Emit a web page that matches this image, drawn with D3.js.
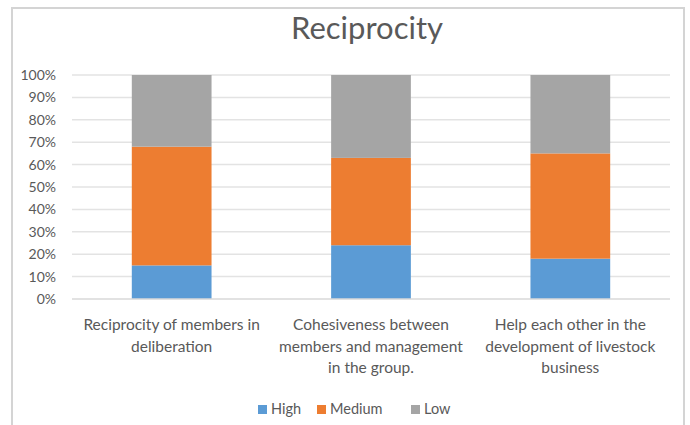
<!DOCTYPE html>
<html>
<head>
<meta charset="utf-8">
<script src="https://cdn.jsdelivr.net/npm/d3@7/dist/d3.min.js"></script>
<style>
  html, body { margin: 0; padding: 0; background: #fff; }
  svg { display: block; }
  text { font-family: Lato, "Open Sans", sans-serif; }
</style>
</head>
<body>
<svg id="chart" width="690" height="425"></svg>
<script>
// Survey responses on reciprocity, percent of respondents per level
const categories = [
  ["Reciprocity of members in", "deliberation"],
  ["Cohesiveness between", "members and management", "in the group."],
  ["Help each other in the", "development of livestock", "business"]
];
const seriesNames = ["High", "Medium", "Low"];
const high   = [15, 24, 18];
const medium = [53, 39, 47];
const low    = [32, 37, 35];
const tickValues = [0, 10, 20, 30, 40, 50, 60, 70, 80, 90, 100];
const colors = ["#5b9bd5", "#ed7d31", "#a5a5a5"];

const svg = d3.select("#chart");

// outer frame (open at the bottom)
svg.append("path")
  .attr("d", "M12,425 V8 H684 V425")
  .attr("fill", "none")
  .attr("stroke", "#d4d4d4")
  .attr("stroke-width", 2);

const margin = { left: 72 };
const plotRight = 670;
const plotTop = 75, plotBottom = 299;

const x = d3.scaleBand()
  .domain(d3.range(categories.length))
  .range([margin.left, plotRight])
  .paddingInner(0.6)
  .paddingOuter(0.3);

const y = d3.scaleLinear().domain([0, 100]).range([plotBottom, plotTop]);

// title
svg.append("text")
  .attr("x", 367).attr("y", 39)
  .attr("text-anchor", "middle")
  .attr("font-size", 31)
  .attr("fill", "#595959")
  .text("Reciprocity");

// gridlines
svg.append("g")
  .selectAll("line")
  .data(tickValues.filter(v => v > 0))
  .join("line")
  .attr("x1", margin.left).attr("x2", plotRight)
  .attr("y1", d => y(d)).attr("y2", d => y(d))
  .attr("stroke", "#e3e3e3")
  .attr("stroke-width", 1.5);

// y axis labels
const yAxis = d3.axisLeft(y)
  .tickValues(tickValues)
  .tickFormat(d => d + "%")
  .tickSize(0)
  .tickPadding(16);
const gy = svg.append("g").attr("transform", `translate(${margin.left},0)`).call(yAxis);
gy.select(".domain").remove();
gy.selectAll("text")
  .attr("font-size", 14)
  .attr("fill", "#595959")
  .style("font-family", "Lato, sans-serif");

// stacked bars
const rows = categories.map((c, i) => ({ i, High: high[i], Medium: medium[i], Low: low[i] }));
const stack = d3.stack().keys(seriesNames)(rows);

svg.append("g")
  .selectAll("g")
  .data(stack)
  .join("g")
  .attr("fill", (d, k) => colors[k])
  .selectAll("rect")
  .data(d => d)
  .join("rect")
  .attr("x", d => x(d.data.i))
  .attr("width", x.bandwidth())
  .attr("y", d => y(d[1]))
  .attr("height", d => y(d[0]) - y(d[1]));

// baseline
svg.append("line")
  .attr("x1", margin.left).attr("x2", plotRight)
  .attr("y1", plotBottom).attr("y2", plotBottom)
  .attr("stroke", "#d9d9d9")
  .attr("stroke-width", 1.5);

// category labels
const cat = svg.append("g");
categories.forEach((lines, i) => {
  const cx = x(i) + x.bandwidth() / 2;
  const t = cat.append("text")
    .attr("x", cx)
    .attr("y", 330)
    .attr("text-anchor", "middle")
    .attr("font-size", 15.5)
    .attr("fill", "#595959");
  lines.forEach((ln, j) => {
    t.append("tspan")
      .attr("x", cx)
      .attr("dy", j === 0 ? 0 : 21.5)
      .text(ln);
  });
});

// legend
const legendX = [258, 317, 411];
const lg = svg.append("g");
seriesNames.forEach((name, k) => {
  lg.append("rect")
    .attr("x", legendX[k]).attr("y", 405)
    .attr("width", 9).attr("height", 9)
    .attr("fill", colors[k]);
  lg.append("text")
    .attr("x", legendX[k] + 13).attr("y", 414)
    .attr("font-size", 14.5)
    .attr("fill", "#595959")
    .text(name);
});
</script>
</body>
</html>
